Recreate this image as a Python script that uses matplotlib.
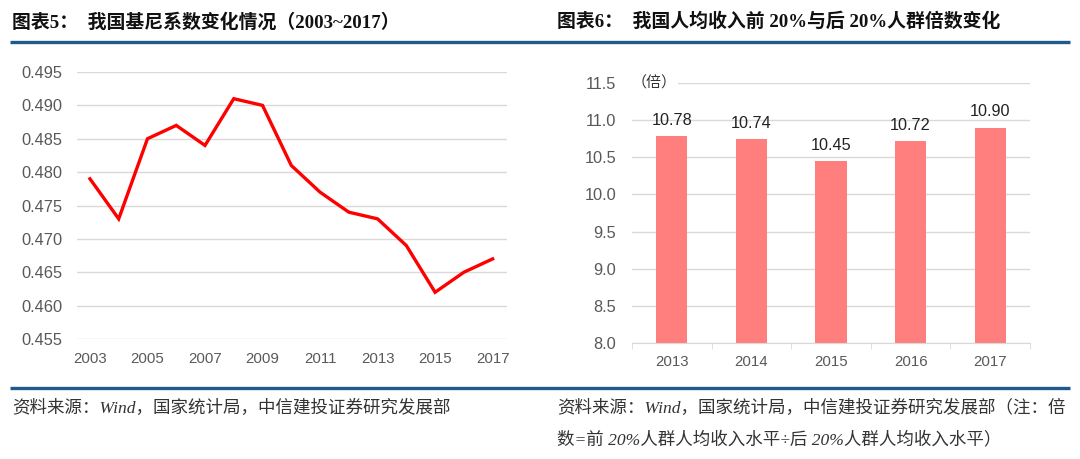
import matplotlib
matplotlib.use("Agg")
import matplotlib.pyplot as plt
from matplotlib.lines import Line2D

# ---- data ----
gini_years = [2003, 2004, 2005, 2006, 2007, 2008, 2009, 2010, 2011, 2012, 2013, 2014, 2015, 2016, 2017]
gini_values = [0.479, 0.473, 0.485, 0.487, 0.484, 0.491, 0.490, 0.481, 0.477, 0.474, 0.473, 0.469, 0.462, 0.465, 0.467]
gini_xticks = [2003, 2005, 2007, 2009, 2011, 2013, 2015, 2017]
gini_yticks = [0.455, 0.460, 0.465, 0.470, 0.475, 0.480, 0.485, 0.490, 0.495]

ratio_years = ["2013", "2014", "2015", "2016", "2017"]
ratio_values = [10.78, 10.74, 10.45, 10.72, 10.90]
ratio_yticks = [8.0, 8.5, 9.0, 9.5, 10.0, 10.5, 11.0, 11.5]

title_left = "图表5：  我国基尼系数变化情况（2003~2017）"
title_right = "图表6：  我国人均收入前 20%与后 20%人群倍数变化"
note_left = "资料来源：Wind，国家统计局，中信建投证券研究发展部"
note_right1 = "资料来源：Wind，国家统计局，中信建投证券研究发展部（注：倍"
note_right2 = "数=前 20%人群人均收入水平÷后 20%人群人均收入水平）"
unit_label = "（倍）"

# ---- style ----
plt.rcParams['font.family'] = ['Liberation Sans', 'Noto Sans CJK SC', 'DejaVu Sans']
TICK_C = "#595959"
GRID_C = "#D9D9D9"
HDR_C = "#1F5A8C"
title_fam = ['Liberation Serif', 'Noto Sans CJK SC']
note_fam = ['Liberation Serif', 'Noto Sans CJK SC']

fig = plt.figure(figsize=(10.8, 4.59), dpi=100)

# header / footer rules
for yy in (0.9085, 0.1547):
    fig.add_artist(Line2D([10/1080, 1070/1080], [yy, yy], color=HDR_C, lw=2.4,
                          transform=fig.transFigure, solid_capstyle='butt'))

fig.text(12/1080, 0.952, title_left, fontsize=13.6, fontweight='bold', family=title_fam,
         ha='left', va='center', color='#111111')
fig.text(557/1080, 0.952, title_right, fontsize=13.6, fontweight='bold', family=title_fam,
         ha='left', va='center', color='#111111')
fig.text(12/1080, 0.111, note_left, fontsize=12.6, style='italic', family=note_fam,
         ha='left', va='center', color='#333333')
fig.text(557/1080, 0.111, note_right1, fontsize=12.6, style='italic', family=note_fam,
         ha='left', va='center', color='#333333')
fig.text(557/1080, 0.041, note_right2, fontsize=12.6, style='italic', family=note_fam,
         ha='left', va='center', color='#333333')

# ---- left: line chart ----
ax1 = fig.add_axes([77/1080, 1 - 339/459, 430/1080, 267/459])
ax1.plot(gini_years, gini_values, color='#FF0000', lw=2.4, solid_joinstyle='miter')
ax1.set_xlim(2002.55, 2017.5)
ax1.set_ylim(0.455, 0.495)
ax1.set_yticks(gini_yticks)
ax1.set_yticklabels([f"{v:.3f}" for v in gini_yticks])
ax1.set_xticks(gini_xticks)
ax1.set_xticklabels([str(v) for v in gini_xticks])
ax1.grid(axis='y', color=GRID_C, lw=1)
ax1.set_axisbelow(True)
for s in ax1.spines.values():
    s.set_visible(False)
ax1.tick_params(axis='both', length=0, colors=TICK_C)
ax1.tick_params(axis='y', pad=10.5, labelsize=11.8)
ax1.tick_params(axis='x', pad=9.5, labelsize=10.8)

# ---- right: bar chart ----
ax2 = fig.add_axes([632/1080, 1 - 343/459, 398/1080, 260/459])
x = list(range(len(ratio_years)))
bars = ax2.bar(x, ratio_values, width=0.39, color='#FF7F7F', zorder=2)
for xi, v in zip(x, ratio_values):
    ax2.annotate(f"{v:.2f}", (xi, v), xytext=(0, 6), textcoords='offset points',
                 ha='center', va='bottom', fontsize=11.7, color='#222222')
ax2.set_xlim(-0.5, len(ratio_years) - 0.5)
ax2.set_ylim(8.0, 11.5)
ax2.set_yticks(ratio_yticks)
ax2.set_yticklabels([f"{v:.1f}" for v in ratio_yticks])
ax2.set_xticks(x)
ax2.set_xticklabels(ratio_years)
ax2.set_xticks([i - 0.5 for i in range(len(ratio_years) + 1)], minor=True)
ax2.grid(axis='y', color=GRID_C, lw=1, zorder=0)
ax2.set_axisbelow(True)
for k, s in ax2.spines.items():
    s.set_visible(k == 'bottom')
ax2.spines['bottom'].set_color(GRID_C)
ax2.tick_params(axis='both', which='major', length=0, colors=TICK_C)
ax2.tick_params(axis='x', which='minor', length=4, color=GRID_C)
ax2.tick_params(axis='y', pad=11.5, labelsize=11.8)
ax2.tick_params(axis='x', pad=9, labelsize=10.8)
ax2.text(0.0, 11.5, unit_label, transform=ax2.get_yaxis_transform(), fontsize=10.8,
         ha='left', va='center', color='#333333',
         bbox=dict(facecolor='white', edgecolor='none', pad=1))

fig.savefig("out.png", dpi=100, facecolor='white')
